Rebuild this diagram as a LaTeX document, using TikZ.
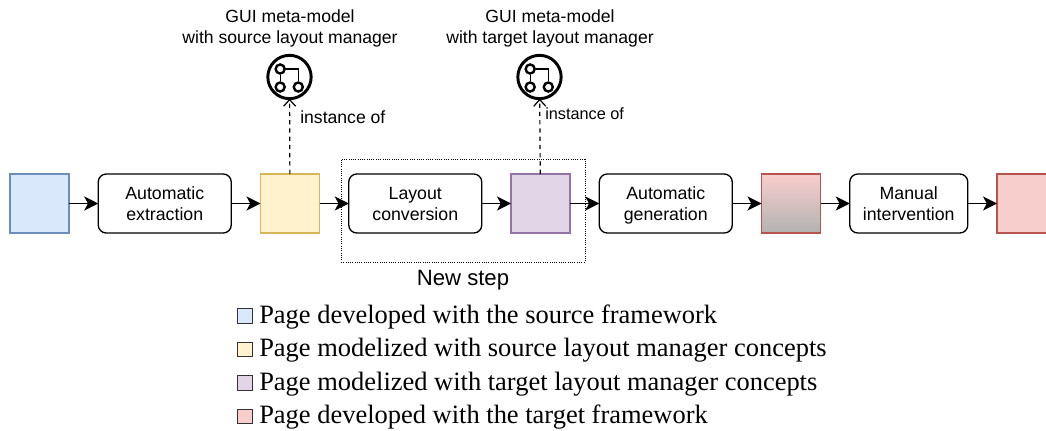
\documentclass[tikz,border=0pt]{standalone}
\usepackage{fontspec}
\setmainfont{Liberation Serif}
\setsansfont{Liberation Sans}
\usepackage{tikz}
\usetikzlibrary{arrows.meta, positioning}
\definecolor{colorSource}{HTML}{DAE8FC}
\definecolor{colorSourceLine}{HTML}{6C8EBF}
\definecolor{colorModel}{HTML}{FFF2CC}
\definecolor{colorModelLine}{HTML}{D6B656}
\definecolor{colorTarget}{HTML}{E1D5E7}
\definecolor{colorTargetLine}{HTML}{9673A6}
\definecolor{colorPage}{HTML}{F8CECC}
\definecolor{colorPageLine}{HTML}{B85450}
\tikzset{
  page/.style={draw, line width=1pt, minimum width=44.25pt, minimum height=44.25pt, inner sep=0pt, outer sep=0pt},
  task/.style={draw, line width=1pt, rounded corners=6pt, minimum height=44.25pt, align=center, inner sep=0pt, outer sep=0pt, font=\sffamily\fontsize{13.3}{15.2}\selectfont},
  link/.style={->, line width=1.15pt},
  instance/.style={-{Straight Barb[length=5pt, width=9pt]}, line width=.9pt, dash pattern=on 3.2pt off 3pt},
  legendbox/.style={draw=black!80, line width=.6pt, minimum width=11pt, minimum height=10.7pt, inner sep=0pt},
  legendtext/.style={anchor=west, inner sep=0pt, font=\fontsize{19.85}{24}\selectfont},
  caption/.style={align=center, inner sep=0pt, font=\sffamily\fontsize{13.2}{15.6}\selectfont},
  manager/.style={circle, draw, line width=2.2pt, minimum size=32.5pt, inner sep=0pt, outer sep=0pt},
  dot/.style={circle, draw, line width=1.8pt, minimum size=6.8pt, inner sep=0pt},
}
\newcommand{\taskstrut}{\rule{0pt}{14.4pt}}
\newcommand{\managericon}[2]{%
  \node[manager] (#1) at #2 {};
  \node[dot] (#1a) at ([shift={(-7pt,6pt)}]#1.center) {};
  \node[dot] (#1b) at ([shift={(-7pt,-7.5pt)}]#1.center) {};
  \node[dot] (#1c) at ([shift={(6.6pt,-7.5pt)}]#1.center) {};
  \draw[line width=1pt] (#1a) -- (#1b);
  \draw[line width=1pt] (#1a) -| (#1c);
}

\begin{document}
\begin{tikzpicture}[x=.75pt, y=-.75pt, >={Stealth[length=10.5pt, width=10.5pt, inset=2.8pt]}, node distance=21.94pt]
\useasboundingbox (0,0) rectangle (1046,430);
\clip (0,0) rectangle (1046,430);
% main chain
\node[page, fill=colorSource, draw=colorSourceLine, anchor=north west] (source) at (10,174) {};
\node[task, right=of source, minimum width=99.75pt] (extraction) {\taskstrut Automatic\\\strut extraction};
\node[page, fill=colorModel, draw=colorModelLine, right=of extraction] (model) {};
\node[task, right=of model, minimum width=99.75pt] (conversion) {\taskstrut Layout\\\strut conversion};
\node[page, fill=colorTarget, draw=colorTargetLine, right=of conversion] (target) {};
\node[task, right=of target, minimum width=99.75pt] (generation) {\taskstrut Automatic\\\strut generation};
\node[page, top color=colorPage, bottom color=black!30, draw=colorPageLine, right=of generation] (generated) {};
\node[task, right=of generated, minimum width=88.5pt] (manual) {\taskstrut Manual\\\strut intervention};
\node[page, fill=colorPage, draw=colorPageLine, right=of manual] (final) {};
\draw [link] (source) -- (extraction);
\draw [link] (extraction) -- (model);
\draw [link] (model) -- (conversion);
\draw [link] (conversion) -- (target);
\draw [link] (target) -- (generation);
\draw [link] (generation) -- (generated);
\draw [link] (generated) -- (manual);
\draw [link] (manual) -- (final);
% new step
\node[draw, dash pattern=on .7pt off 1pt, line width=.7pt, minimum width=183pt, minimum height=77.25pt, inner sep=0pt] (newbox) at (463,210.5) {};
\node[inner sep=0pt, font=\sffamily\fontsize{16.6}{20}\selectfont, below=5.5pt of newbox] (newlabel) {New step};
% meta-models
\managericon{srcicon}{(289.5,77)}
\managericon{tgticon}{(539.5,77)}
\draw [instance] (model) -- (srcicon);
\draw [instance] (target) -- (tgticon);
\node[caption] (srccaption) at (290,28.5) {GUI meta-model\\with source layout manager};
\node[caption] (tgtcaption) at (550,28.5) {GUI meta-model\\with target layout manager};
\node[anchor=west, inner sep=0pt, font=\sffamily\fontsize{13.2}{16}\selectfont] (srcinstance) at (300,117) {instance of};
\node[anchor=west, inner sep=0pt, font=\sffamily\fontsize{12.2}{15}\selectfont] (tgtinstance) at (545,114) {instance of};
% legend
\node[legendbox, fill=colorSource] (keysource) at (245,316) {};
\node[legendbox, fill=colorModel] (keymodel) at (245,349.5) {};
\node[legendbox, fill=colorTarget] (keytarget) at (245,383) {};
\node[legendbox, fill=colorPage] (keypage) at (245,416.5) {};
\node[legendtext] (textsource) at (259,317.5) {Page developed with the source framework};
\node[legendtext] (textmodel) at (259,350.5) {Page modelized with source layout manager concepts};
\node[legendtext] (texttarget) at (259,384) {Page modelized with target layout manager concepts};
\node[legendtext] (textpage) at (259,417) {Page developed with the target framework};
\end{tikzpicture}
\end{document}
